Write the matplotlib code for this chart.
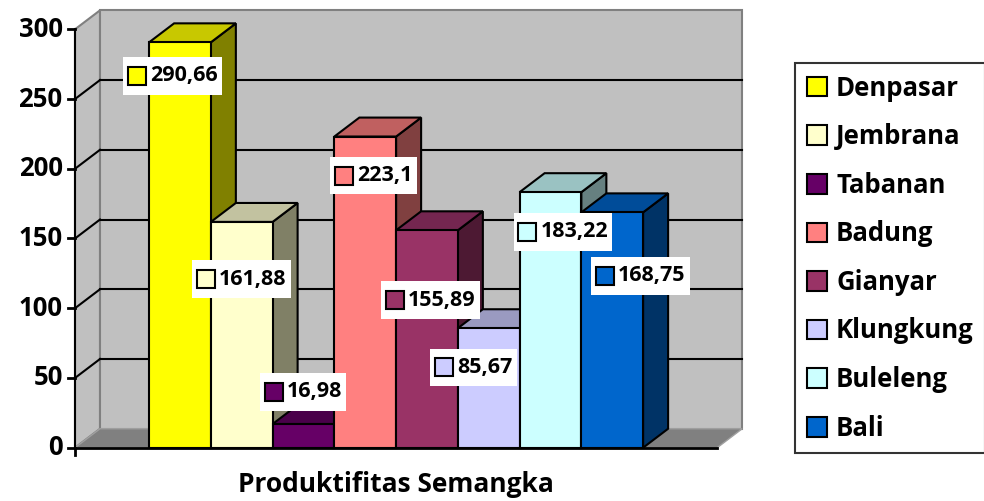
import matplotlib
matplotlib.use('Agg')
import matplotlib.pyplot as plt
from matplotlib.patches import Polygon, Rectangle, Patch
from matplotlib.offsetbox import AnnotationBbox, HPacker, DrawingArea, TextArea

plt.rcParams['font.family'] = ['Open Sans', 'DejaVu Sans']
plt.rcParams['font.weight'] = 'bold'

# data
regions = ['Denpasar', 'Jembrana', 'Tabanan', 'Badung', 'Gianyar', 'Klungkung', 'Buleleng', 'Bali']
values = [290.66, 161.88, 16.98, 223.1, 155.89, 85.67, 183.22, 168.75]
value_labels = ['290,66', '161,88', '16,98', '223,1', '155,89', '85,67', '183,22', '168,75']
yticks = [0, 50, 100, 150, 200, 250, 300]
title = 'Produktifitas Semangka'

# colours: front face, top face, side face
front_colors = ['#FFFF00', '#FFFFCC', '#660066', '#FF8080', '#993366', '#CCCCFF', '#CCFFFF', '#0066CC']
top_colors = ['#C8C800', '#C2C2A0', '#4A004A', '#C06060', '#742650', '#9A9AC0', '#9AC2C2', '#004C99']
side_colors = ['#808000', '#808066', '#330033', '#804040', '#4D1933', '#666680', '#668080', '#003366']

# label placement: box start relative to bar left (bar widths), vertical offset from bar top (value units)
label_dx = [-0.35, -0.24, -0.14, 0.0, -0.18, -0.38, -0.03, 0.22]
label_dy = [-24, -41, 23, -28, -50, -28, -28.5, -45.6]

# 3d look
DX, DY = 0.405, 13.6
X0 = 1.2
XMAX = 2 * X0 + len(values)
YMAX = yticks[-1]

fig = plt.figure(figsize=(9.84, 5.01), dpi=100)
ax = fig.add_axes([0, 0, 1, 1])
ax.set_xlim(-75 / 61.75, 909 / 61.75)
ax.set_ylim(-53.3 / 1.3947, 447.7 / 1.3947)
ax.axis('off')

# walls
ax.add_patch(Polygon([(0, 0), (DX, DY), (DX, YMAX + DY), (0, YMAX)],
                     fc='#C0C0C0', ec='#808080', lw=1.5, zorder=1))
ax.add_patch(Polygon([(DX, DY), (XMAX + DX, DY), (XMAX + DX, YMAX + DY), (DX, YMAX + DY)],
                     fc='#C0C0C0', ec='#808080', lw=1.5, zorder=1))
# gridlines
for v in yticks[1:-1]:
    ax.plot([0, DX], [v, v + DY], color='black', lw=1.5, zorder=2)
    ax.plot([DX, XMAX + DX], [v + DY, v + DY], color='black', lw=1.5, zorder=2)
# floor
ax.add_patch(Polygon([(0, 0), (XMAX, 0), (XMAX + DX, DY), (DX, DY)],
                     fc='#808080', ec='#A0A0A0', lw=1, zorder=2))
ax.plot([0, XMAX], [0, 0], color='black', lw=2, zorder=2.5)

# bars
for i, h in enumerate(values):
    left = X0 + i
    right = left + 1
    z = 3 + i * 0.1
    ax.add_patch(Polygon([(right, 0), (right, h), (right + DX, h + DY), (right + DX, DY)],
                         fc=side_colors[i], ec='black', lw=1.5, zorder=z))
    ax.add_patch(Polygon([(left, h), (right, h), (right + DX, h + DY), (left + DX, h + DY)],
                         fc=top_colors[i], ec='black', lw=1.5, zorder=z + 0.01))
    ax.add_patch(Rectangle((left, 0), 1, h, fc=front_colors[i], ec='black', lw=1.5, zorder=z + 0.02))

# y axis
ax.plot([0, 0], [0, YMAX], color='black', lw=1.5, zorder=2.6)
ax.plot([0, 0], [0, -5], color='black', lw=2, zorder=2.6)
for v in yticks:
    ax.plot([-0.11, 0], [v, v], color='black', lw=2, zorder=2.6)
    ax.text(-0.2, v, str(v), ha='right', va='center', fontsize=18.5, fontweight='bold')

# value labels
for i, h in enumerate(values):
    da = DrawingArea(13.5, 21, 0, 0)
    da.add_artist(Rectangle((0.5, 4), 13, 13, fc=front_colors[i], ec='black', lw=1.5))
    ta = TextArea(value_labels[i], textprops=dict(fontsize=15.5, fontweight='bold'))
    box = HPacker(children=[da, ta], align='center', pad=0, sep=3)
    ab = AnnotationBbox(box, (X0 + i + label_dx[i], h + label_dy[i]), box_alignment=(0, 0.5),
                        frameon=True, pad=0.4,
                        bboxprops=dict(fc='white', ec='none', boxstyle='square'), zorder=20)
    ax.add_artist(ab)

fig.text(396 / 984, 1 - 484 / 501, title, ha='center', va='center', fontsize=19, fontweight='bold')

handles = [Patch(fc=c, ec='black', lw=1.5) for c in front_colors]
leg = fig.legend(handles, regions, loc='upper left', bbox_to_anchor=(795 / 984, 1 - 63 / 501),
                 fontsize=18.5, frameon=True, fancybox=False, edgecolor='black',
                 handlelength=0.8, handleheight=0.8, handletextpad=0.35,
                 labelspacing=0.84, borderpad=0.45, borderaxespad=0)
leg.get_frame().set_linewidth(1.5)
for t in leg.get_texts():
    t.set_fontweight('bold')

fig.savefig('out.png', dpi=100)
